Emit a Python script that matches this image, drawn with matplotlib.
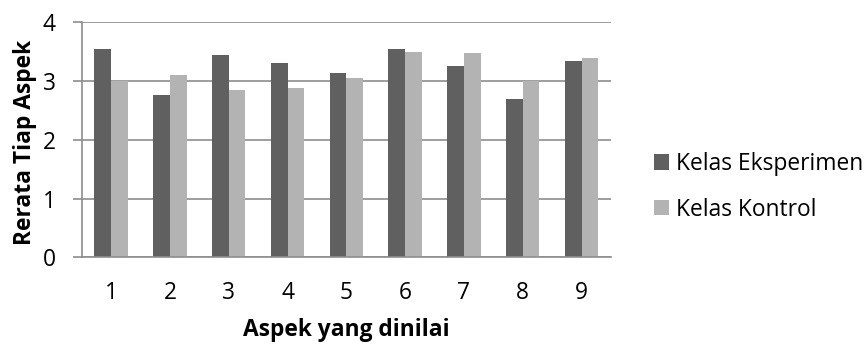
import matplotlib as mpl
import matplotlib.pyplot as plt
import numpy as np

mpl.rc('font', family=['Open Sans', 'DejaVu Sans'])

# mean score per assessed aspect
aspek = ['1', '2', '3', '4', '5', '6', '7', '8', '9']
eksperimen = [3.55, 2.77, 3.45, 3.30, 3.13, 3.54, 3.26, 2.69, 3.34]
kontrol = [3.00, 3.10, 2.84, 2.89, 3.06, 3.49, 3.47, 3.00, 3.39]
labels = ['Kelas Eksperimen', 'Kelas Kontrol']

dark = '#606060'
light = '#b3b3b3'
grid = '#8e8e8e'
fs = 16.4

fig = plt.figure(figsize=(8.66, 3.45), dpi=100)
ax = fig.add_axes([0.0943, 0.2542, 0.6112, 0.6812])

barWidth = 0.284
r = np.arange(len(aspek))
ax.bar(r - barWidth / 2, eksperimen, width=barWidth, color=dark, label=labels[0], zorder=2)
ax.bar(r + barWidth / 2, kontrol, width=barWidth, color=light, label=labels[1], zorder=2)

ax.set_xlim(-0.5, len(aspek) - 0.5)
ax.set_ylim(0, 4)
ax.set_yticks(range(0, 5))
ax.set_xticks(r)
ax.set_xticklabels(aspek)

ax.yaxis.grid(True, color=grid, linewidth=1.2, zorder=0)
ax.set_axisbelow(True)
for s in ['top', 'right']:
    ax.spines[s].set_visible(False)
ax.spines['left'].set_color(grid)
ax.spines['bottom'].set_color(grid)
ax.spines['left'].set_linewidth(1.2)
ax.spines['bottom'].set_linewidth(1.2)

ax.tick_params(axis='y', length=6.5, width=1.2, color=grid, pad=12, labelsize=fs)
ax.tick_params(axis='x', length=0, pad=17, labelsize=fs)

ax.set_xlabel('Aspek yang dinilai', fontsize=fs, fontweight='bold', va='top')
ax.xaxis.set_label_coords(0.5, -0.26)
ax.set_ylabel('Rerata Tiap Aspek', fontsize=fs, fontweight='bold')
ax.yaxis.set_label_coords(-0.085, 0.49)

leg = ax.legend(loc='center left', bbox_to_anchor=(1.081, 0.30), frameon=False,
                fontsize=fs, handlelength=0.66, handleheight=0.66,
                handletextpad=0.32, labelspacing=0.95,
                borderpad=0, borderaxespad=0)

plt.savefig('out.png', dpi=100)
